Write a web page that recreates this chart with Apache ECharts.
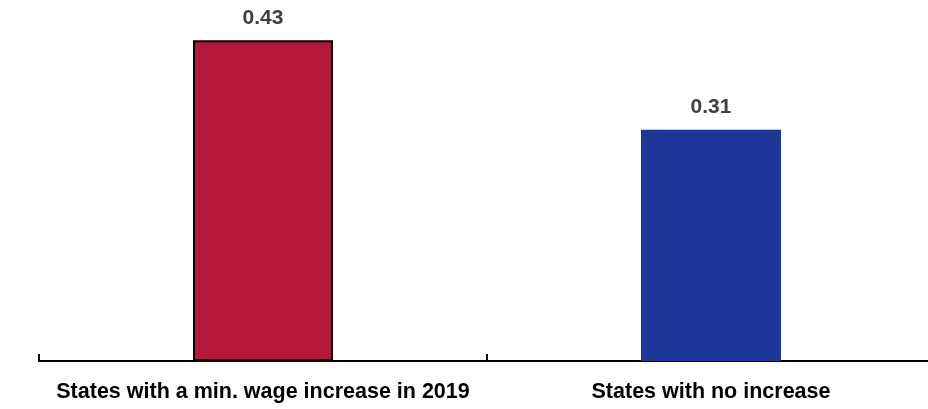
<!DOCTYPE html>
<html>
<head>
<meta charset="utf-8">
<script src="https://cdn.jsdelivr.net/npm/echarts@6/dist/echarts.min.js"></script>
<style>html,body{margin:0;padding:0;background:#fff;}#c{width:928px;height:409px;}</style>
</head>
<body>
<div id="c"></div>
<script>
const categories = ['States with a min. wage increase in 2019', 'States with no increase'];
const values = [0.43, 0.31];
const barColors = ['#B5173B', '#1F3699'];

const chart = echarts.init(document.getElementById('c'), null, {renderer: 'canvas'});
chart.setOption({
  animation: false,
  grid: {left: 39, width: 896, top: 3, height: 358, containLabel: false, outerBoundsMode: 'none'},
  xAxis: {
    type: 'category',
    data: categories,
    axisLine: {lineStyle: {color: '#000', width: 2}},
    axisTick: {show: true, inside: true, length: 7, lineStyle: {color: '#000', width: 2}},
    axisLabel: {interval: 0, color: '#000', fontFamily: 'Liberation Sans', fontWeight: 'bold', fontSize: 21.5, margin: 20}
  },
  yAxis: {type: 'value', min: 0, max: 0.48, show: false, splitLine: {show: false}},
  series: [{
    type: 'bar',
    barWidth: 140,
    data: values.map((v, i) => ({
      value: v,
      itemStyle: i === 0 ? {color: barColors[i], borderColor: '#000', borderWidth: 2} : {color: barColors[i]}
    })),
    label: {show: true, position: 'top', distance: 12, color: '#404040', fontFamily: 'Liberation Sans', fontWeight: 'bold', fontSize: 21}
  }]
});
</script>
</body>
</html>
